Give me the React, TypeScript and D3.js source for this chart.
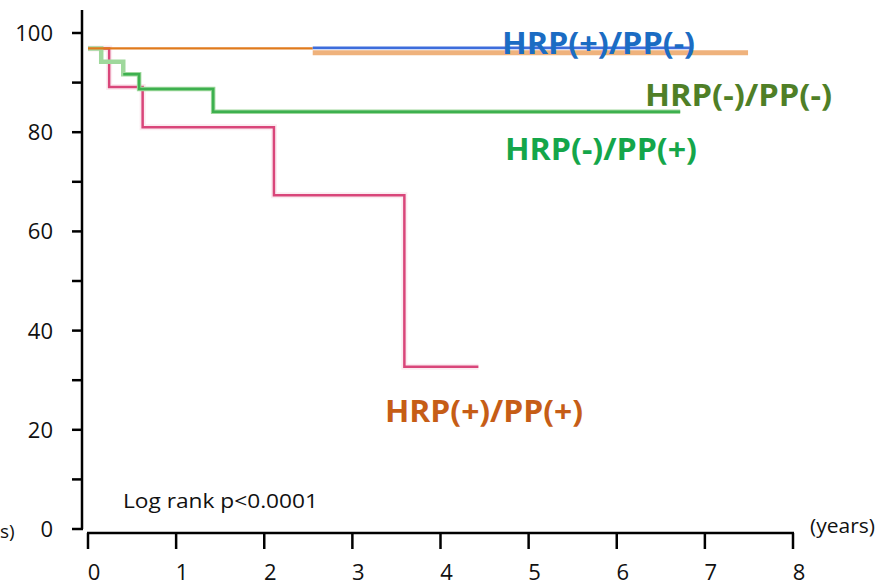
import React from "react";
import * as d3 from "d3";

// ---- data ----
const xTickValues = [0, 1, 2, 3, 4, 5, 6, 7, 8];
const yTickValues = [0, 10, 20, 30, 40, 50, 60, 70, 80, 90, 100];
const yLabelValues = [0, 20, 40, 60, 80, 100];

// HRP(+)/PP(+) (red curve)
const redTimes = [0, 0.24, 0.62, 2.11, 3.59, 4.43];
const redValues = [96.9, 89.1, 81.0, 67.3, 32.7, 32.7];

// HRP(-)/PP(+) pale green curve
const paleGreenTimes = [0, 0.15, 0.40, 0.58, 1.42, 6.72];
const paleGreenValues = [96.9, 94.2, 91.7, 88.7, 84.1, 84.1];

// darker green curve
const darkGreenTimes = [0.40, 0.58, 1.42, 6.72];
const darkGreenValues = [91.7, 88.7, 84.1, 84.1];

// orange (start of the top curve)
const orangeTimes = [0, 2.55];
const orangeValues = [96.9, 96.9];

// HRP(+)/PP(-) blue
const blueTimes = [2.55, 6.83];
const blueValues = [97.0, 97.0];

// tan (light orange) curve
const tanTimes = [2.55, 7.49];
const tanValues = [96.0, 96.0];

const labels = ["HRP(+)/PP(-)", "HRP(-)/PP(-)", "HRP(-)/PP(+)", "HRP(+)/PP(+)"];

const W = 880;
const H = 587;

const x = d3.scaleLinear().domain([0, 8]).range([88, 793]);
const y = d3.scaleLinear().domain([0, 100]).range([529, 33]);

const line = d3
  .line<[number, number]>()
  .x((d) => x(d[0]))
  .y((d) => y(d[1]))
  .curve(d3.curveStepAfter);

const zip = (t: number[], v: number[]): [number, number][] =>
  t.map((ti, i) => [ti, v[i]]);

const FONT = "'Open Sans', 'Liberation Sans', sans-serif";

export default function App() {
  const series = [
    { d: zip(tanTimes, tanValues), color: "#efb27c", w: 5, o: 1 },
    { d: zip(redTimes, redValues), color: "#f9dde6", w: 6, o: 0.6 },
    { d: zip(redTimes, redValues), color: "#d9467a", w: 2.5, o: 1 },
    { d: zip(paleGreenTimes, paleGreenValues), color: "#9fd89c", w: 4.5, o: 1 },
    { d: zip(darkGreenTimes, darkGreenValues), color: "#3db04f", w: 2.5, o: 1 },
    { d: zip(orangeTimes, orangeValues), color: "#e07a1c", w: 2.2, o: 1 },
    { d: zip(blueTimes, blueValues), color: "#3d6ddc", w: 2.8, o: 1 },
  ];

  const labelSpecs = [
    { text: labels[0], x: 502, y: 54, len: 193, color: "#1b6cc3" },
    { text: labels[1], x: 645, y: 106, len: 187, color: "#4f7f27" },
    { text: labels[2], x: 505, y: 160, len: 192, color: "#14a64a" },
    { text: labels[3], x: 385, y: 422, len: 198, color: "#c65d16" },
  ];

  return (
    <svg
      width={W}
      height={H}
      style={{ position: "absolute", left: 0, top: 0, background: "#fff" }}
    >
      <rect x={0} y={0} width={W} height={H} fill="#fff" />

      {/* curves */}
      {series.map((s, i) => (
        <path
          key={i}
          d={line(s.d) || ""}
          fill="none"
          stroke={s.color}
          strokeWidth={s.w}
          strokeOpacity={s.o}
          strokeLinejoin="miter"
        />
      ))}

      {/* y axis */}
      <line x1={82} x2={82} y1={10} y2={y(0)} stroke="#000" strokeWidth={2.5} />
      {yTickValues.map((v) => (
        <line key={v} x1={72} x2={83} y1={y(v)} y2={y(v)} stroke="#000" strokeWidth={2.5} />
      ))}
      {yLabelValues.map((v) => (
        <text
          key={v}
          x={53}
          y={y(v)}
          dy="0.36em"
          textAnchor="end"
          fontFamily={FONT}
          fontSize={22}
          fill="#111"
        >
          {v}
        </text>
      ))}

      {/* x axis */}
      <line x1={x(0) - 1} x2={x(8) + 1} y1={533} y2={533} stroke="#000" strokeWidth={2.5} />
      {xTickValues.map((v) => (
        <line key={v} x1={x(v)} x2={x(v)} y1={533} y2={549} stroke="#000" strokeWidth={2.5} />
      ))}
      {xTickValues.map((v) => (
        <text
          key={v}
          x={x(v) + 6}
          y={580}
          textAnchor="middle"
          fontFamily={FONT}
          fontSize={22}
          fill="#111"
        >
          {v}
        </text>
      ))}

      {/* axis titles (partly cropped in the reference) */}
      <text x={810} y={533} fontFamily={FONT} fontSize={20} fill="#111" textLength={65} lengthAdjust="spacingAndGlyphs">
        (years)
      </text>
      <text x={0} y={538} fontFamily={FONT} fontSize={19} fill="#111">
        s)
      </text>

      <text
        x={123}
        y={508}
        fontFamily={FONT}
        fontSize={20}
        fill="#111"
        textLength={195}
        lengthAdjust="spacingAndGlyphs"
      >
        Log rank p&lt;0.0001
      </text>

      {/* group labels */}
      {labelSpecs.map((l) => (
        <text
          key={l.text}
          x={l.x}
          y={l.y}
          fontFamily={FONT}
          fontWeight={700}
          fontSize={30}
          fill={l.color}
          textLength={l.len}
          lengthAdjust="spacingAndGlyphs"
        >
          {l.text}
        </text>
      ))}
    </svg>
  );
}
